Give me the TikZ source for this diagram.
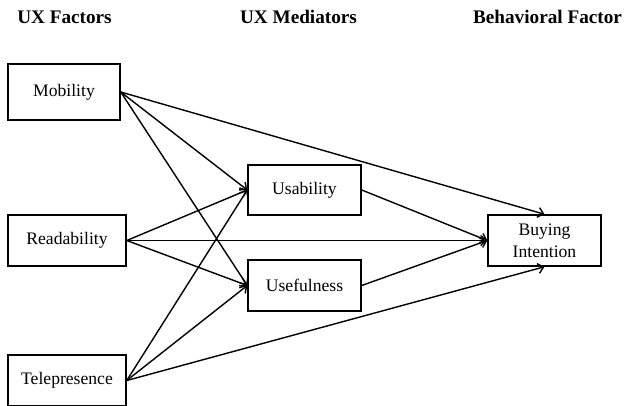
\documentclass[tikz,border=0pt]{standalone}
\usepackage{fontspec}
\setmainfont{Liberation Serif}
\usetikzlibrary{arrows.meta}
\begin{document}
\begin{tikzpicture}[x=1pt,y=-1pt,
  factor/.style={draw,line width=1.5pt,inner sep=0pt,minimum height=51pt,
    font=\fontsize{17.6}{22}\selectfont,align=center},
  heading/.style={font=\fontsize{19.2}{23}\selectfont\bfseries,anchor=base},
  link/.style={line width=1.4pt,-{Straight Barb[length=5.5pt,width=10pt,line width=1.4pt]}}]
\useasboundingbox (0,0) rectangle (627,405);

% column headings
\node[heading] (h1) at (64.5,23) {UX Factors};
\node[heading] (h2) at (298.5,23) {UX Mediators};
\node[heading] (h3) at (547.5,23) {Behavioral Factor};

% boxes
\node[factor,minimum width=112pt,minimum height=56pt] (mob) at (64,92) {Mobility};
\node[factor,minimum width=118pt] (read) at (67,240.5) {Readability};
\node[factor,minimum width=118pt] (tele) at (67,380.5) {Telepresence};
\node[factor,minimum width=113pt,minimum height=50pt] (usab) at (304.5,190) {Usability};
\node[factor,minimum width=113pt] (usef) at (304.5,285.5) {Usefulness};
\node[factor,minimum width=113pt] (buy) at (544.5,240.5) {Buying\\Intention};

% paths from the UX factors
\draw[link] (mob.east) -- (buy.north);
\draw[link] (mob.east) -- (usab.west);
\draw[link] (mob.east) -- (usef.west);
\draw[link] (read.east) -- (usab.west);
\draw[link] (read.east) -- (buy.west);
\draw[link] (read.east) -- (usef.west);
\draw[link] (tele.east) -- (usab.west);
\draw[link] (tele.east) -- (usef.west);
\draw[link] (tele.east) -- (buy.south);

% paths from the mediators
\draw[link] (usab.east) -- (buy.west);
\draw[link] (usef.east) -- (buy.west);
\end{tikzpicture}
\end{document}
